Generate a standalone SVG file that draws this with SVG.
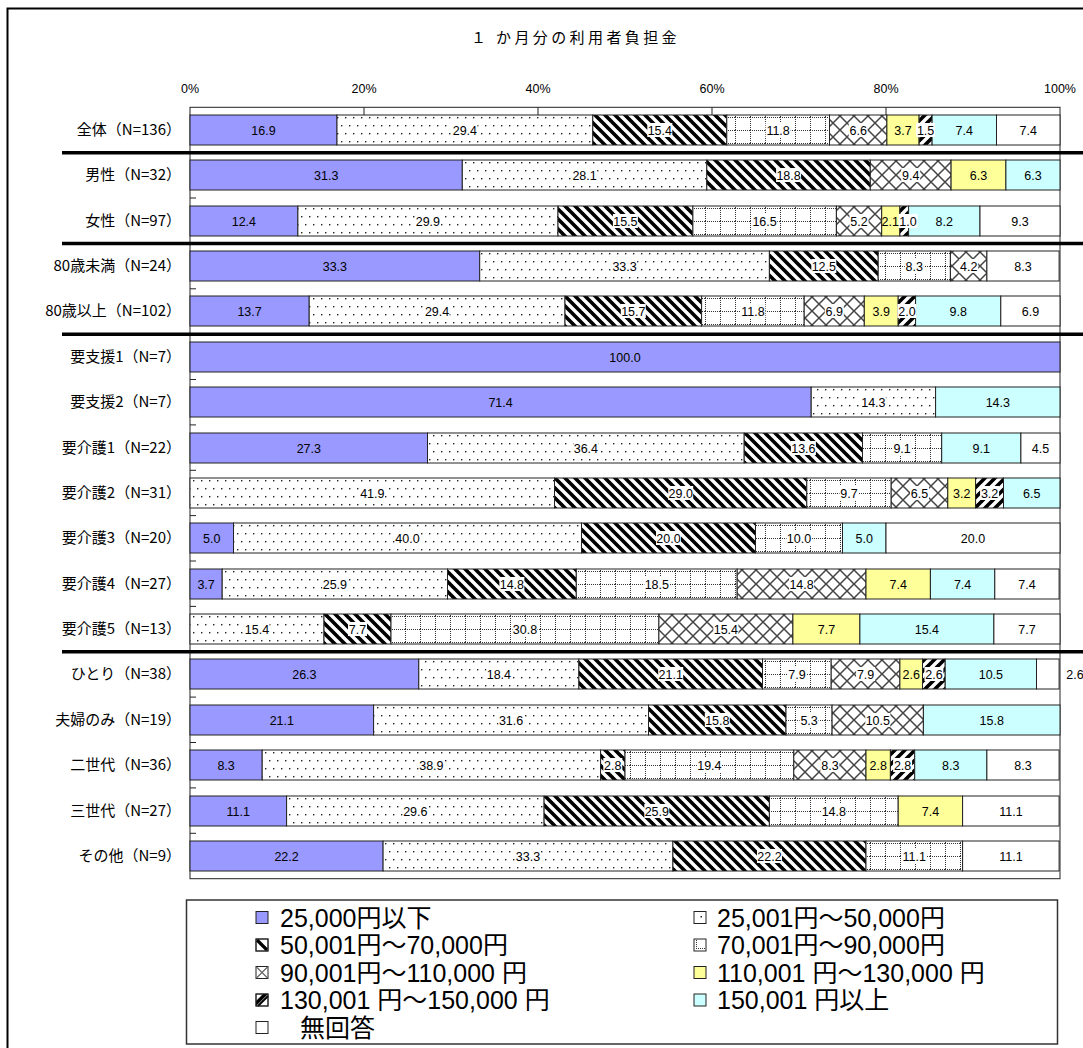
<svg xmlns="http://www.w3.org/2000/svg" width="1083" height="1048" viewBox="0 0 1083 1048">
<style>
.s{stroke:#222;stroke-width:1}
.c1{fill:#9999FF}.c2{fill:url(#pDot)}.c3{fill:url(#pDn)}.c4{fill:url(#pGrid)}.c5{fill:url(#pX)}
.c6{fill:#FFFF99}.c7{fill:url(#pUp)}.c8{fill:#CCFFFF}.c9{fill:#FFFFFF}
.bg{fill:#fff}
.v{font-family:"Liberation Sans",Arial,sans-serif;font-size:12.5px;text-anchor:middle;fill:#000}
.rl{font-family:"Noto Sans CJK JP",sans-serif;font-size:15px;text-anchor:end;fill:#000}
.ax{font-family:"Liberation Sans",Arial,sans-serif;font-size:12.5px;text-anchor:middle;fill:#000}
.lg{font-family:"Liberation Sans","Noto Sans CJK JP",sans-serif;font-size:25px;fill:#000}
.sep{stroke:#000;stroke-width:3.5}
.ln{stroke:#222;stroke-width:1;fill:none}
</style>
<defs>
<pattern id="pDot" width="8" height="16" patternUnits="userSpaceOnUse">
<rect width="8" height="16" fill="#fff"/>
<rect x="1" y="3" width="1.4" height="1.4" fill="#222"/>
<rect x="5" y="11" width="1.4" height="1.4" fill="#222"/>
</pattern>
<pattern id="pDn" width="10" height="10" patternUnits="userSpaceOnUse">
<rect width="10" height="10" fill="#fff"/>
<path d="M-2,-2 L12,12 M-12,-2 L2,12 M8,-2 L22,12" stroke="#000" stroke-width="3.6"/>
</pattern>
<pattern id="pUp" width="10" height="10" patternUnits="userSpaceOnUse">
<rect width="10" height="10" fill="#fff"/>
<path d="M-2,12 L12,-2 M-12,12 L2,-2 M8,12 L22,-2" stroke="#000" stroke-width="3.6"/>
</pattern>
<pattern id="pGrid" width="15" height="13" patternUnits="userSpaceOnUse">
<rect width="15" height="13" fill="#fff"/>
<path d="M0,0.5 H15 M0.5,0 V13" stroke="#333" stroke-width="1" stroke-dasharray="1 1"/>
</pattern>
<pattern id="pX" width="14" height="14" patternUnits="userSpaceOnUse">
<rect width="14" height="14" fill="#fff"/>
<path d="M-1,-1 L15,15 M15,-1 L-1,15" stroke="#444" stroke-width="1.5"/>
</pattern>
</defs>
<rect width="1083" height="1048" fill="#fff"/>
<rect x="7.5" y="8.5" width="1200" height="1200" fill="none" stroke="#000" stroke-width="2"/>
<g id="title">
<text x="471 496" y="43" font-family="Noto Sans CJK JP,sans-serif" font-size="15" letter-spacing="3.4">１か月分の利用者負担金</text>
</g>
<g id="axis">
<text class="ax" x="190" y="93">0%</text>
<text class="ax" x="364" y="93">20%</text>
<text class="ax" x="538" y="93">40%</text>
<text class="ax" x="712" y="93">60%</text>
<text class="ax" x="886" y="93">80%</text>
<text class="ax" x="1060" y="93">100%</text>
<rect class="ln" x="190" y="107.3" width="870" height="771.4"/>
<path class="ln" d="M364,107.3V115 M538,107.3V115 M712,107.3V115 M886,107.3V115"/>
<path class="ln" d="M190,152.7h6 M190,198h6 M190,243.4h6 M190,288.8h6 M190,334.2h6 M190,379.5h6 M190,424.9h6 M190,470.3h6 M190,515.6h6 M190,561h6 M190,606.4h6 M190,651.8h6 M190,697.1h6 M190,742.5h6 M190,787.9h6 M190,833.3h6"/>
</g>

<g id="r-all" transform="translate(0,130)">
<text class="rl" x="181" y="5">全体（N=136）</text>
<rect class="s c1" x="190" y="-15" width="147" height="30"/>
<rect class="s c2" x="337" y="-15" width="255.8" height="30"/>
<rect class="s c3" x="592.8" y="-15" width="134" height="30"/>
<rect class="s c4" x="726.8" y="-15" width="102.7" height="30"/>
<rect class="s c5" x="829.5" y="-15" width="57.4" height="30"/>
<rect class="s c6" x="886.9" y="-15" width="32.2" height="30"/>
<rect class="s c7" x="919.1" y="-15" width="13" height="30"/>
<rect class="s c8" x="932.1" y="-15" width="64.4" height="30"/>
<rect class="s c9" x="996.5" y="-15" width="63.5" height="30"/>
<rect class="bg" x="452.4" y="-7" width="25" height="14"/><rect class="bg" x="647.3" y="-7" width="25" height="14"/><rect class="bg" x="765.6" y="-7" width="25" height="14"/><rect class="bg" x="848.7" y="-7" width="19" height="14"/><rect class="bg" x="916.1" y="-7" width="19" height="14"/>
<text class="v" x="263.5" y="4.5">16.9</text><text class="v" x="464.9" y="4.5">29.4</text><text class="v" x="659.8" y="4.5">15.4</text><text class="v" x="778.1" y="4.5">11.8</text><text class="v" x="858.2" y="4.5">6.6</text><text class="v" x="903" y="4.5">3.7</text><text class="v" x="925.6" y="4.5">1.5</text><text class="v" x="964.3" y="4.5">7.4</text><text class="v" x="1028.2" y="4.5">7.4</text>
</g>

<g id="r-male" transform="translate(0,175)">
<text class="rl" x="181" y="5">男性（N=32）</text>
<rect class="s c1" x="190" y="-15" width="272.3" height="30"/>
<rect class="s c2" x="462.3" y="-15" width="244.5" height="30"/>
<rect class="s c3" x="706.8" y="-15" width="163.5" height="30"/>
<rect class="s c5" x="870.3" y="-15" width="80.8" height="30"/>
<rect class="s c6" x="951.1" y="-15" width="54.8" height="30"/>
<rect class="s c8" x="1005.9" y="-15" width="54.1" height="30"/>
<rect class="bg" x="572.1" y="-7" width="25" height="14"/><rect class="bg" x="776.1" y="-7" width="25" height="14"/><rect class="bg" x="901.2" y="-7" width="19" height="14"/>
<text class="v" x="326.2" y="4.5">31.3</text><text class="v" x="584.6" y="4.5">28.1</text><text class="v" x="788.6" y="4.5">18.8</text><text class="v" x="910.7" y="4.5">9.4</text><text class="v" x="978.5" y="4.5">6.3</text><text class="v" x="1033" y="4.5">6.3</text>
</g>

<g id="r-female" transform="translate(0,221)">
<text class="rl" x="181" y="5">女性（N=97）</text>
<rect class="s c1" x="190" y="-15" width="107.9" height="30"/>
<rect class="s c2" x="297.9" y="-15" width="260.1" height="30"/>
<rect class="s c3" x="558" y="-15" width="134.9" height="30"/>
<rect class="s c4" x="692.9" y="-15" width="143.5" height="30"/>
<rect class="s c5" x="836.4" y="-15" width="45.3" height="30"/>
<rect class="s c6" x="881.7" y="-15" width="18.2" height="30"/>
<rect class="s c7" x="899.9" y="-15" width="8.7" height="30"/>
<rect class="s c8" x="908.6" y="-15" width="71.4" height="30"/>
<rect class="s c9" x="980" y="-15" width="80" height="30"/>
<rect class="bg" x="415.4" y="-7" width="25" height="14"/><rect class="bg" x="612.9" y="-7" width="25" height="14"/><rect class="bg" x="752.1" y="-7" width="25" height="14"/><rect class="bg" x="849.5" y="-7" width="19" height="14"/><rect class="bg" x="898.5" y="-7" width="19" height="14"/>
<text class="v" x="243.9" y="4.5">12.4</text><text class="v" x="427.9" y="4.5">29.9</text><text class="v" x="625.4" y="4.5">15.5</text><text class="v" x="764.6" y="4.5">16.5</text><text class="v" x="859" y="4.5">5.2</text><text class="v" x="890.3" y="4.5">2.1</text><text class="v" x="908" y="4.5">1.0</text><text class="v" x="944.3" y="4.5">8.2</text><text class="v" x="1020" y="4.5">9.3</text>
</g>

<g id="r-u80" transform="translate(0,266)">
<text class="rl" x="181" y="5">80歳未満（N=24）</text>
<rect class="s c1" x="190" y="-15" width="289.7" height="30"/>
<rect class="s c2" x="479.7" y="-15" width="289.7" height="30"/>
<rect class="s c3" x="769.4" y="-15" width="108.8" height="30"/>
<rect class="s c4" x="878.2" y="-15" width="72.2" height="30"/>
<rect class="s c5" x="950.4" y="-15" width="36.5" height="30"/>
<rect class="s c9" x="986.9" y="-15" width="72.2" height="30"/>
<rect class="bg" x="612.1" y="-7" width="25" height="14"/><rect class="bg" x="811.3" y="-7" width="25" height="14"/><rect class="bg" x="904.8" y="-7" width="19" height="14"/><rect class="bg" x="959.2" y="-7" width="19" height="14"/>
<text class="v" x="334.9" y="4.5">33.3</text><text class="v" x="624.6" y="4.5">33.3</text><text class="v" x="823.8" y="4.5">12.5</text><text class="v" x="914.3" y="4.5">8.3</text><text class="v" x="968.7" y="4.5">4.2</text><text class="v" x="1023" y="4.5">8.3</text>
</g>

<g id="r-o80" transform="translate(0,311)">
<text class="rl" x="181" y="5">80歳以上（N=102）</text>
<rect class="s c1" x="190" y="-15" width="119.2" height="30"/>
<rect class="s c2" x="309.2" y="-15" width="255.8" height="30"/>
<rect class="s c3" x="565" y="-15" width="136.6" height="30"/>
<rect class="s c4" x="701.6" y="-15" width="102.6" height="30"/>
<rect class="s c5" x="804.2" y="-15" width="60.1" height="30"/>
<rect class="s c6" x="864.3" y="-15" width="33.9" height="30"/>
<rect class="s c7" x="898.2" y="-15" width="17.4" height="30"/>
<rect class="s c8" x="915.6" y="-15" width="85.2" height="30"/>
<rect class="s c9" x="1000.8" y="-15" width="59.2" height="30"/>
<rect class="bg" x="424.6" y="-7" width="25" height="14"/><rect class="bg" x="620.8" y="-7" width="25" height="14"/><rect class="bg" x="740.4" y="-7" width="25" height="14"/><rect class="bg" x="824.8" y="-7" width="19" height="14"/><rect class="bg" x="897.4" y="-7" width="19" height="14"/>
<text class="v" x="249.6" y="4.5">13.7</text><text class="v" x="437.1" y="4.5">29.4</text><text class="v" x="633.3" y="4.5">15.7</text><text class="v" x="752.9" y="4.5">11.8</text><text class="v" x="834.3" y="4.5">6.9</text><text class="v" x="881.3" y="4.5">3.9</text><text class="v" x="906.9" y="4.5">2.0</text><text class="v" x="958.2" y="4.5">9.8</text><text class="v" x="1030.4" y="4.5">6.9</text>
</g>

<g id="r-shien1" transform="translate(0,357)">
<text class="rl" x="181" y="5">要支援1（N=7）</text>
<rect class="s c1" x="190" y="-15" width="870" height="30"/>
<text class="v" x="625" y="4.5">100.0</text>
</g>

<g id="r-shien2" transform="translate(0,402)">
<text class="rl" x="181" y="5">要支援2（N=7）</text>
<rect class="s c1" x="190" y="-15" width="621.2" height="30"/>
<rect class="s c2" x="811.2" y="-15" width="124.4" height="30"/>
<rect class="s c8" x="935.6" y="-15" width="124.4" height="30"/>
<rect class="bg" x="860.9" y="-7" width="25" height="14"/>
<text class="v" x="500.6" y="4.5">71.4</text><text class="v" x="873.4" y="4.5">14.3</text><text class="v" x="997.8" y="4.5">14.3</text>
</g>

<g id="r-kaigo1" transform="translate(0,448)">
<text class="rl" x="181" y="5">要介護1（N=22）</text>
<rect class="s c1" x="190" y="-15" width="237.5" height="30"/>
<rect class="s c2" x="427.5" y="-15" width="316.7" height="30"/>
<rect class="s c3" x="744.2" y="-15" width="118.3" height="30"/>
<rect class="s c4" x="862.5" y="-15" width="79.2" height="30"/>
<rect class="s c8" x="941.7" y="-15" width="79.2" height="30"/>
<rect class="s c9" x="1020.9" y="-15" width="39.1" height="30"/>
<rect class="bg" x="573.4" y="-7" width="25" height="14"/><rect class="bg" x="790.9" y="-7" width="25" height="14"/><rect class="bg" x="892.6" y="-7" width="19" height="14"/>
<text class="v" x="308.8" y="4.5">27.3</text><text class="v" x="585.9" y="4.5">36.4</text><text class="v" x="803.4" y="4.5">13.6</text><text class="v" x="902.1" y="4.5">9.1</text><text class="v" x="981.3" y="4.5">9.1</text><text class="v" x="1040.4" y="4.5">4.5</text>
</g>

<g id="r-kaigo2" transform="translate(0,493)">
<text class="rl" x="181" y="5">要介護2（N=31）</text>
<rect class="s c2" x="190" y="-15" width="364.5" height="30"/>
<rect class="s c3" x="554.5" y="-15" width="252.3" height="30"/>
<rect class="s c4" x="806.8" y="-15" width="84.4" height="30"/>
<rect class="s c5" x="891.2" y="-15" width="56.6" height="30"/>
<rect class="s c6" x="947.8" y="-15" width="27.8" height="30"/>
<rect class="s c7" x="975.6" y="-15" width="27.9" height="30"/>
<rect class="s c8" x="1003.5" y="-15" width="56.5" height="30"/>
<rect class="bg" x="359.8" y="-7" width="25" height="14"/><rect class="bg" x="668.2" y="-7" width="25" height="14"/><rect class="bg" x="839.5" y="-7" width="19" height="14"/><rect class="bg" x="910" y="-7" width="19" height="14"/><rect class="bg" x="980.1" y="-7" width="19" height="14"/>
<text class="v" x="372.3" y="4.5">41.9</text><text class="v" x="680.7" y="4.5">29.0</text><text class="v" x="849" y="4.5">9.7</text><text class="v" x="919.5" y="4.5">6.5</text><text class="v" x="961.7" y="4.5">3.2</text><text class="v" x="989.6" y="4.5">3.2</text><text class="v" x="1031.8" y="4.5">6.5</text>
</g>

<g id="r-kaigo3" transform="translate(0,538)">
<text class="rl" x="181" y="5">要介護3（N=20）</text>
<rect class="s c1" x="190" y="-15" width="43.5" height="30"/>
<rect class="s c2" x="233.5" y="-15" width="348" height="30"/>
<rect class="s c3" x="581.5" y="-15" width="174" height="30"/>
<rect class="s c4" x="755.5" y="-15" width="87" height="30"/>
<rect class="s c8" x="842.5" y="-15" width="43.5" height="30"/>
<rect class="s c9" x="886" y="-15" width="174" height="30"/>
<rect class="bg" x="395" y="-7" width="25" height="14"/><rect class="bg" x="656" y="-7" width="25" height="14"/><rect class="bg" x="786.5" y="-7" width="25" height="14"/>
<text class="v" x="211.8" y="4.5">5.0</text><text class="v" x="407.5" y="4.5">40.0</text><text class="v" x="668.5" y="4.5">20.0</text><text class="v" x="799" y="4.5">10.0</text><text class="v" x="864.3" y="4.5">5.0</text><text class="v" x="973" y="4.5">20.0</text>
</g>

<g id="r-kaigo4" transform="translate(0,584)">
<text class="rl" x="181" y="5">要介護4（N=27）</text>
<rect class="s c1" x="190" y="-15" width="32.2" height="30"/>
<rect class="s c2" x="222.2" y="-15" width="225.3" height="30"/>
<rect class="s c3" x="447.5" y="-15" width="128.8" height="30"/>
<rect class="s c4" x="576.3" y="-15" width="160.9" height="30"/>
<rect class="s c5" x="737.2" y="-15" width="128.8" height="30"/>
<rect class="s c6" x="866" y="-15" width="64.4" height="30"/>
<rect class="s c8" x="930.4" y="-15" width="64.4" height="30"/>
<rect class="s c9" x="994.8" y="-15" width="64.3" height="30"/>
<rect class="bg" x="322.4" y="-7" width="25" height="14"/><rect class="bg" x="499.4" y="-7" width="25" height="14"/><rect class="bg" x="644.3" y="-7" width="25" height="14"/><rect class="bg" x="789.1" y="-7" width="25" height="14"/>
<text class="v" x="206.1" y="4.5">3.7</text><text class="v" x="334.9" y="4.5">25.9</text><text class="v" x="511.9" y="4.5">14.8</text><text class="v" x="656.8" y="4.5">18.5</text><text class="v" x="801.6" y="4.5">14.8</text><text class="v" x="898.2" y="4.5">7.4</text><text class="v" x="962.6" y="4.5">7.4</text><text class="v" x="1027" y="4.5">7.4</text>
</g>

<g id="r-kaigo5" transform="translate(0,629)">
<text class="rl" x="181" y="5">要介護5（N=13）</text>
<rect class="s c2" x="190" y="-15" width="134" height="30"/>
<rect class="s c3" x="324" y="-15" width="67" height="30"/>
<rect class="s c4" x="391" y="-15" width="267.9" height="30"/>
<rect class="s c5" x="658.9" y="-15" width="134" height="30"/>
<rect class="s c6" x="792.9" y="-15" width="67" height="30"/>
<rect class="s c8" x="859.9" y="-15" width="134" height="30"/>
<rect class="s c9" x="993.9" y="-15" width="66.1" height="30"/>
<rect class="bg" x="244.5" y="-7" width="25" height="14"/><rect class="bg" x="348" y="-7" width="19" height="14"/><rect class="bg" x="512.5" y="-7" width="25" height="14"/><rect class="bg" x="713.4" y="-7" width="25" height="14"/>
<text class="v" x="257" y="4.5">15.4</text><text class="v" x="357.5" y="4.5">7.7</text><text class="v" x="525" y="4.5">30.8</text><text class="v" x="725.9" y="4.5">15.4</text><text class="v" x="826.4" y="4.5">7.7</text><text class="v" x="926.9" y="4.5">15.4</text><text class="v" x="1027" y="4.5">7.7</text>
</g>

<g id="r-single" transform="translate(0,674)">
<text class="rl" x="181" y="5">ひとり（N=38）</text>
<rect class="s c1" x="190" y="-15" width="228.8" height="30"/>
<rect class="s c2" x="418.8" y="-15" width="160.1" height="30"/>
<rect class="s c3" x="578.9" y="-15" width="183.6" height="30"/>
<rect class="s c4" x="762.5" y="-15" width="68.7" height="30"/>
<rect class="s c5" x="831.2" y="-15" width="68.7" height="30"/>
<rect class="s c6" x="899.9" y="-15" width="22.6" height="30"/>
<rect class="s c7" x="922.5" y="-15" width="22.7" height="30"/>
<rect class="s c8" x="945.2" y="-15" width="91.3" height="30"/>
<rect class="s c9" x="1036.5" y="-15" width="22.6" height="30"/>
<rect class="bg" x="486.4" y="-7" width="25" height="14"/><rect class="bg" x="658.2" y="-7" width="25" height="14"/><rect class="bg" x="787.4" y="-7" width="19" height="14"/><rect class="bg" x="856.1" y="-7" width="19" height="14"/><rect class="bg" x="924.4" y="-7" width="19" height="14"/>
<text class="v" x="304.4" y="4.5">26.3</text><text class="v" x="498.9" y="4.5">18.4</text><text class="v" x="670.7" y="4.5">21.1</text><text class="v" x="796.9" y="4.5">7.9</text><text class="v" x="865.6" y="4.5">7.9</text><text class="v" x="911.2" y="4.5">2.6</text><text class="v" x="933.9" y="4.5">2.6</text><text class="v" x="990.9" y="4.5">10.5</text><text class="v" x="1075" y="4.5">2.6</text>
</g>

<g id="r-couple" transform="translate(0,720)">
<text class="rl" x="181" y="5">夫婦のみ（N=19）</text>
<rect class="s c1" x="190" y="-15" width="183.6" height="30"/>
<rect class="s c2" x="373.6" y="-15" width="274.9" height="30"/>
<rect class="s c3" x="648.5" y="-15" width="137.5" height="30"/>
<rect class="s c4" x="786" y="-15" width="46.1" height="30"/>
<rect class="s c5" x="832.1" y="-15" width="91.3" height="30"/>
<rect class="s c8" x="923.4" y="-15" width="136.6" height="30"/>
<rect class="bg" x="498.6" y="-7" width="25" height="14"/><rect class="bg" x="704.8" y="-7" width="25" height="14"/><rect class="bg" x="799.6" y="-7" width="19" height="14"/><rect class="bg" x="865.3" y="-7" width="25" height="14"/>
<text class="v" x="281.8" y="4.5">21.1</text><text class="v" x="511.1" y="4.5">31.6</text><text class="v" x="717.3" y="4.5">15.8</text><text class="v" x="809.1" y="4.5">5.3</text><text class="v" x="877.8" y="4.5">10.5</text><text class="v" x="991.7" y="4.5">15.8</text>
</g>

<g id="r-2gen" transform="translate(0,765)">
<text class="rl" x="181" y="5">二世代（N=36）</text>
<rect class="s c1" x="190" y="-15" width="72.2" height="30"/>
<rect class="s c2" x="262.2" y="-15" width="338.4" height="30"/>
<rect class="s c3" x="600.6" y="-15" width="24.4" height="30"/>
<rect class="s c4" x="625" y="-15" width="168.8" height="30"/>
<rect class="s c5" x="793.8" y="-15" width="72.2" height="30"/>
<rect class="s c6" x="866" y="-15" width="24.4" height="30"/>
<rect class="s c7" x="890.4" y="-15" width="24.3" height="30"/>
<rect class="s c8" x="914.7" y="-15" width="72.2" height="30"/>
<rect class="s c9" x="986.9" y="-15" width="72.2" height="30"/>
<rect class="bg" x="418.9" y="-7" width="25" height="14"/><rect class="bg" x="603.3" y="-7" width="19" height="14"/><rect class="bg" x="696.9" y="-7" width="25" height="14"/><rect class="bg" x="820.4" y="-7" width="19" height="14"/><rect class="bg" x="893.1" y="-7" width="19" height="14"/>
<text class="v" x="226.1" y="4.5">8.3</text><text class="v" x="431.4" y="4.5">38.9</text><text class="v" x="612.8" y="4.5">2.8</text><text class="v" x="709.4" y="4.5">19.4</text><text class="v" x="829.9" y="4.5">8.3</text><text class="v" x="878.2" y="4.5">2.8</text><text class="v" x="902.6" y="4.5">2.8</text><text class="v" x="950.8" y="4.5">8.3</text><text class="v" x="1023" y="4.5">8.3</text>
</g>

<g id="r-3gen" transform="translate(0,811)">
<text class="rl" x="181" y="5">三世代（N=27）</text>
<rect class="s c1" x="190" y="-15" width="96.6" height="30"/>
<rect class="s c2" x="286.6" y="-15" width="257.5" height="30"/>
<rect class="s c3" x="544.1" y="-15" width="225.3" height="30"/>
<rect class="s c4" x="769.4" y="-15" width="128.8" height="30"/>
<rect class="s c6" x="898.2" y="-15" width="64.4" height="30"/>
<rect class="s c9" x="962.6" y="-15" width="96.5" height="30"/>
<rect class="bg" x="402.8" y="-7" width="25" height="14"/><rect class="bg" x="644.3" y="-7" width="25" height="14"/><rect class="bg" x="821.3" y="-7" width="25" height="14"/>
<text class="v" x="238.3" y="4.5">11.1</text><text class="v" x="415.3" y="4.5">29.6</text><text class="v" x="656.8" y="4.5">25.9</text><text class="v" x="833.8" y="4.5">14.8</text><text class="v" x="930.4" y="4.5">7.4</text><text class="v" x="1010.9" y="4.5">11.1</text>
</g>

<g id="r-other" transform="translate(0,856)">
<text class="rl" x="181" y="5">その他（N=9）</text>
<rect class="s c1" x="190" y="-15" width="193.1" height="30"/>
<rect class="s c2" x="383.1" y="-15" width="289.8" height="30"/>
<rect class="s c3" x="672.9" y="-15" width="193.1" height="30"/>
<rect class="s c4" x="866" y="-15" width="96.6" height="30"/>
<rect class="s c9" x="962.6" y="-15" width="96.5" height="30"/>
<rect class="bg" x="515.5" y="-7" width="25" height="14"/><rect class="bg" x="757" y="-7" width="25" height="14"/><rect class="bg" x="901.8" y="-7" width="25" height="14"/>
<text class="v" x="286.6" y="4.5">22.2</text><text class="v" x="528" y="4.5">33.3</text><text class="v" x="769.5" y="4.5">22.2</text><text class="v" x="914.3" y="4.5">11.1</text><text class="v" x="1010.9" y="4.5">11.1</text>
</g>

<g id="separators">
<path class="sep" d="M62,152.7H1090 M62,243.4H1090 M62,334.2H1090 M62,651.8H1090"/>
</g>

<g id="legend">
<rect x="186.5" y="900" width="871" height="144" fill="#fff" stroke="#333" stroke-width="1.5"/>
<g id="lg1"><rect class="s c1" x="256" y="911.5" width="12" height="12"/><text class="lg" x="280" y="926.5">25,000円以下</text></g>
<g id="lg2"><rect class="s c9" x="694" y="911.5" width="12" height="12"/><rect x="700.5" y="916" width="1.5" height="1.5" fill="#222"/><text class="lg" x="717" y="926.5">25,001円～50,000円</text></g>
<g id="lg3"><rect class="s c9" x="256" y="939" width="12" height="12"/><path d="M257,940 L267,950" stroke="#000" stroke-width="3.2"/><rect class="s" x="256" y="939" width="12" height="12" fill="none"/><text class="lg" x="280" y="954">50,001円～70,000円</text></g>
<g id="lg4"><rect class="s c9" x="694" y="939" width="12" height="12"/><path d="M696.5,940 V950 M696,948.5 H705" stroke="#333" stroke-width="1" stroke-dasharray="1 1"/><text class="lg" x="717" y="954">70,001円～90,000円</text></g>
<g id="lg5"><rect class="s c9" x="256" y="966.5" width="12" height="12"/><path d="M256.5,967 L267.5,978 M267.5,967 L256.5,978" stroke="#666" stroke-width="1.2"/><text class="lg" x="280" y="981.5">90,001円～110,000 円</text></g>
<g id="lg6"><rect class="s c6" x="694" y="966.5" width="12" height="12"/><text class="lg" x="717" y="981.5">110,001 円～130,000 円</text></g>
<g id="lg7"><rect class="s c9" x="256" y="994" width="12" height="12"/><path d="M256,1006 L256,1001 L263,994 L268,994 L256,1006 Z" fill="#000"/><path d="M258,1006 L268,996" stroke="#000" stroke-width="2"/><rect class="s" x="256" y="994" width="12" height="12" fill="none"/><text class="lg" x="280" y="1009">130,001 円～150,000 円</text></g>
<g id="lg8"><rect class="s c8" x="694" y="994" width="12" height="12"/><text class="lg" x="717" y="1009">150,001 円以上</text></g>
<g id="lg9"><rect class="s c9" x="256" y="1021.5" width="12" height="12"/><text class="lg" x="300" y="1036.5">無回答</text></g>
</g>
</svg>
